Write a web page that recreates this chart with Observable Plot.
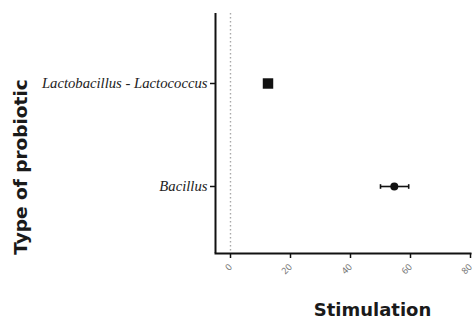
<!DOCTYPE html>
<html>
<head>
<meta charset="utf-8">
<script src="https://cdn.jsdelivr.net/npm/d3@7"></script>
<script src="https://cdn.jsdelivr.net/npm/@observablehq/plot@0.6"></script>
<style>
  html, body { margin: 0; padding: 0; background: #fff; }
</style>
</head>
<body>
<div id="chart"></div>
<script>
const categories = ["Lactobacillus - Lactococcus", "Bacillus"];
const means = [12.5, 54.6];
const lows = [11.6, 50.0];
const highs = [13.4, 59.4];
const symbols = ["square", "circle"];
const xTicks = [0, 20, 40, 60, 80];
const yTitle = "Type of probiotic";
const xTitle = "Stimulation";

const data = categories.map((c, i) => ({cat: c, mean: means[i], lo: lows[i], hi: highs[i], sym: symbols[i]}));

const capSymbol = {
  draw(ctx, size) {
    const h = Math.sqrt(size) / 2;
    ctx.moveTo(0, -h);
    ctx.lineTo(0, h);
  }
};

const W = 475, H = 320, mL = 215, mR = 5, mT = 13, mB = 67;

const chart = Plot.plot({
  width: W,
  height: H,
  marginLeft: mL,
  marginRight: mR,
  marginTop: mT,
  marginBottom: mB,
  style: {background: "#fff", overflow: "visible"},
  x: {domain: [-5, 80], ticks: xTicks, label: null},
  y: {type: "point", domain: categories, range: [83, 186], padding: 0, label: null},
  marks: [
    Plot.ruleX([0], {stroke: "#a8a8a8", strokeWidth: 1.4, strokeDasharray: "1.5,2.5"}),
    Plot.axisX({ticks: xTicks, tickSize: 5, tickPadding: 7, tickRotate: -45, fontSize: 9, fill: "#777", stroke: "#111", strokeWidth: 1.5, label: null}),
    Plot.axisY({tickSize: 5, tickPadding: 3, fontSize: 14.7, fontFamily: "Liberation Serif", fontStyle: "italic", fill: "#222", stroke: "#111", strokeWidth: 1.5, label: null}),
    Plot.ruleX([-5], {stroke: "#111", strokeWidth: 2}),
    Plot.frame({anchor: "bottom", stroke: "#111", strokeWidth: 2}),
    Plot.ruleY(data, {y: "cat", x1: "lo", x2: "hi", stroke: "#111", strokeWidth: 1.6}),
    Plot.dot(data, {x: "lo", y: "cat", symbol: () => capSymbol, r: 2.6, stroke: "#111", strokeWidth: 1.6}),
    Plot.dot(data, {x: "hi", y: "cat", symbol: () => capSymbol, r: 2.6, stroke: "#111", strokeWidth: 1.6}),
    Plot.dot(data.filter(d => d.sym === "square"), {x: "mean", y: "cat", symbol: "square", r: 5.9, fill: "#111", stroke: "none"}),
    Plot.dot(data.filter(d => d.sym === "circle"), {x: "mean", y: "cat", symbol: "circle", r: 4, fill: "#111", stroke: "none"})
  ]
});

const svg = d3.select(chart);
svg.append("text")
  .attr("transform", `translate(20,${(mT + H - mB) / 2 + 34}) rotate(-90)`)
  .attr("text-anchor", "middle")
  .attr("dominant-baseline", "central")
  .attr("font-family", "DejaVu Sans")
  .attr("font-weight", "bold")
  .attr("font-size", 18.5)
  .attr("fill", "#1a1a1a")
  .text(yTitle);
svg.append("text")
  .attr("x", (mL + W - mR) / 2 + 30)
  .attr("y", H - mB + 56)
  .attr("text-anchor", "middle")
  .attr("dominant-baseline", "central")
  .attr("font-family", "DejaVu Sans")
  .attr("font-weight", "bold")
  .attr("font-size", 18)
  .attr("fill", "#1a1a1a")
  .text(xTitle);

document.getElementById("chart").appendChild(chart);
</script>
</body>
</html>
